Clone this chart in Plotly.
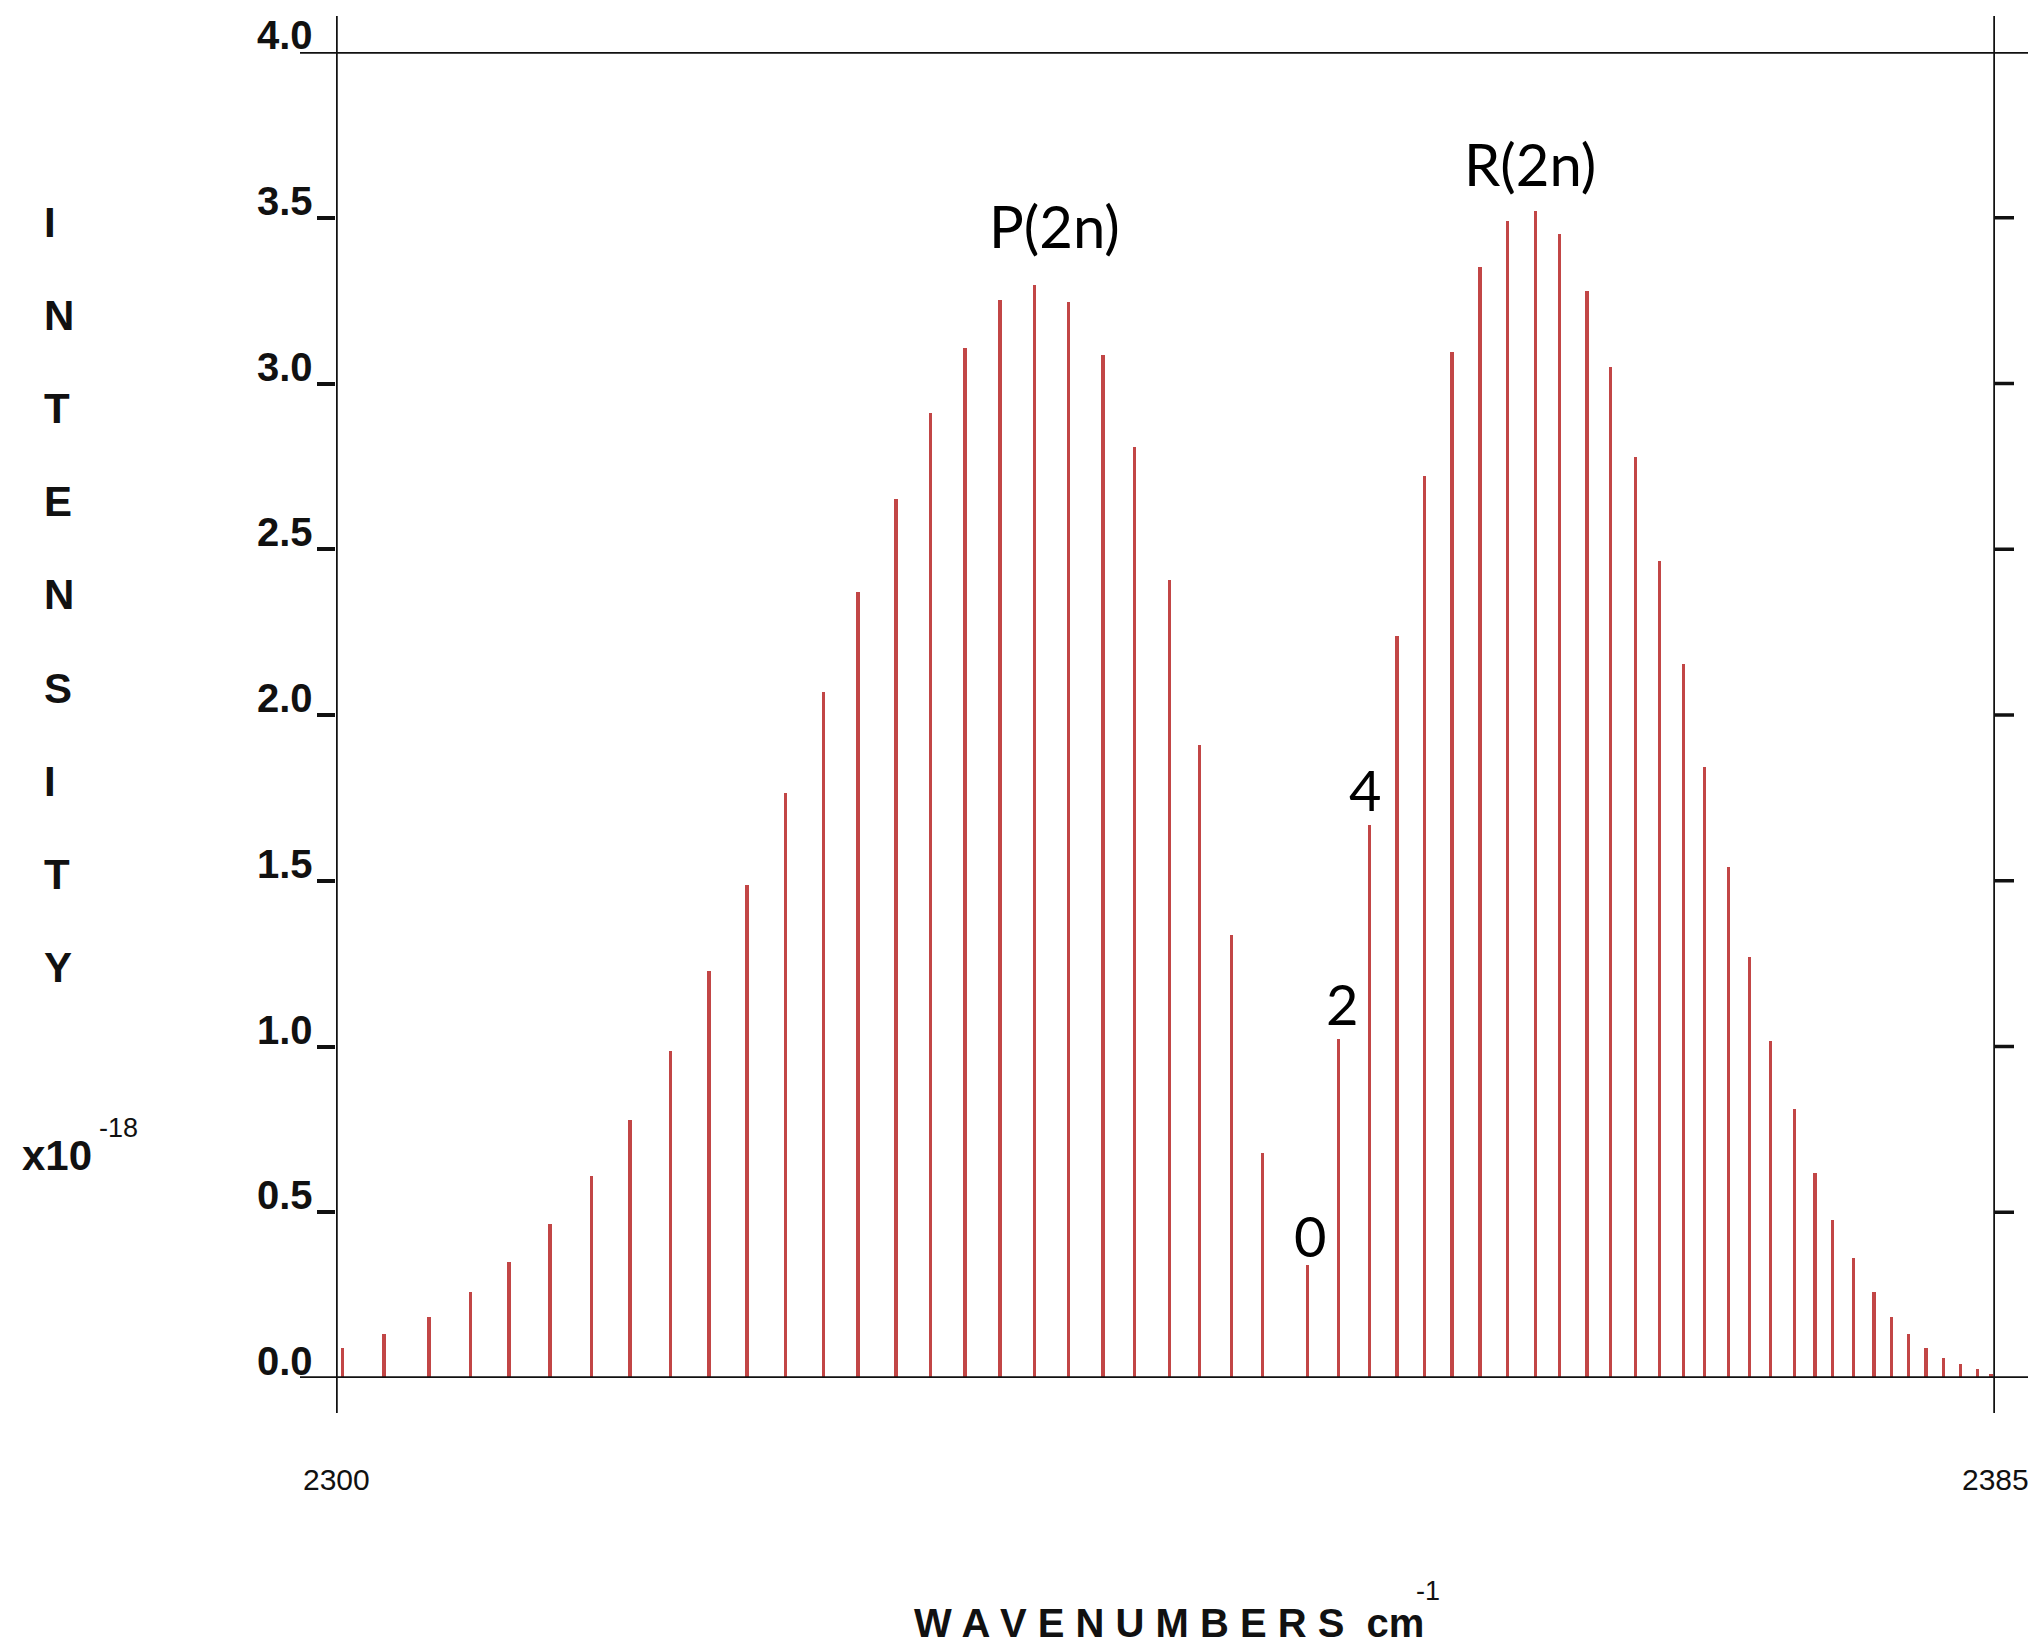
import plotly.graph_objects as go

# ---------------- data ----------------
p_wavenumber = [2300.34, 2302.47, 2304.76, 2306.88, 2308.86, 2310.96, 2313.10, 2315.05,
                2317.15, 2319.11, 2321.06, 2323.02, 2324.97, 2326.74, 2328.68, 2330.47,
                2332.23, 2334.02, 2335.78, 2337.54, 2339.31, 2340.92, 2342.70, 2344.24,
                2345.87, 2347.46]
p_intensity = [0.092, 0.132, 0.184, 0.259, 0.351, 0.465, 0.610, 0.779,
               0.987, 1.228, 1.487, 1.765, 2.068, 2.371, 2.651, 2.912,
               3.107, 3.252, 3.296, 3.246, 3.086, 2.807, 2.408, 1.910,
               1.336, 0.680]

r_wavenumber = [2349.77, 2351.36, 2352.94, 2354.36, 2355.78, 2357.19, 2358.61, 2360.03,
                2361.45, 2362.69, 2364.09, 2365.30, 2366.59, 2367.82, 2369.05, 2370.12,
                2371.35, 2372.41, 2373.49, 2374.73, 2375.79, 2376.68, 2377.74, 2378.80,
                2379.69, 2380.58, 2381.46, 2382.35, 2383.23, 2384.11, 2384.80]
r_intensity = [0.342, 1.022, 1.667, 2.239, 2.721, 3.094, 3.352, 3.489,
               3.520, 3.450, 3.280, 3.050, 2.779, 2.465, 2.153, 1.844,
               1.541, 1.269, 1.017, 0.812, 0.619, 0.477, 0.363, 0.258,
               0.184, 0.133, 0.091, 0.061, 0.042, 0.028, 0.012]

y_tick_vals = [0.0, 0.5, 1.0, 1.5, 2.0, 2.5, 3.0, 3.5, 4.0]
y_tick_text = ["0.0", "0.5", "1.0", "1.5", "2.0", "2.5", "3.0", "3.5", "4.0"]
x_tick_vals = [2300, 2385]
x_tick_text = ["2300", "2385"]

branch_labels = ["P(2n)", "R(2n)"]
branch_label_pos = [(2336.79, 3.478), (2361.17, 3.665)]
j_labels = ["0", "2", "4"]
j_label_pos = [(2349.90, 0.431), (2351.54, 1.131), (2352.72, 1.774)]

y_title_letters = ["I", "N", "T", "E", "N", "S", "I", "T", "Y"]
y_scale_base = "x10"
y_scale_exp = "-18"
x_title_word = "WAVENUMBERS"
x_title_unit = "cm"
x_title_exp = "-1"

# ---------------- geometry ----------------
W, H = 2028, 1645
L, R, T, B = 336, 1995, 52, 1378          # plot area in pixels
PW, PH = R - L, B - T


def px_x(px):
    return (px - L) / PW


def px_y(py):
    return (B - py) / PH


BAR_COLOR = "#c24646"
BLACK = "#111111"

fig = go.Figure()
fig.add_trace(go.Bar(x=p_wavenumber, y=p_intensity, width=0.18,
                     marker=dict(color=BAR_COLOR, line=dict(width=0)),
                     showlegend=False, hoverinfo="x+y"))
fig.add_trace(go.Bar(x=r_wavenumber, y=r_intensity, width=0.18,
                     marker=dict(color=BAR_COLOR, line=dict(width=0)),
                     showlegend=False, hoverinfo="x+y"))

shapes = []
lw = 3.5
# vertical frame lines (extending above and below the plot)
for xv in x_tick_vals:
    shapes.append(dict(type="line", xref="x", yref="paper", x0=xv, x1=xv,
                       y0=px_y(1413), y1=px_y(16), line=dict(color=BLACK, width=lw)))
# horizontal frame lines at 0 and 4
for yv in (y_tick_vals[0], y_tick_vals[-1]):
    shapes.append(dict(type="line", xref="paper", yref="y", x0=px_x(300), x1=px_x(2030),
                       y0=yv, y1=yv, line=dict(color=BLACK, width=lw)))
# right-hand ticks
for yv in y_tick_vals[1:-1]:
    shapes.append(dict(type="line", xref="paper", yref="y", x0=1.0, x1=px_x(R + 19),
                       y0=yv, y1=yv, line=dict(color=BLACK, width=lw)))

annotations = []
# y tick labels (sit on top of their tick line)
for v, t in zip(y_tick_vals, y_tick_text):
    annotations.append(dict(text=t, xref="paper", yref="y", x=px_x(315), y=v,
                            xanchor="right", yanchor="bottom", yshift=-7, showarrow=False,
                            font=dict(family="Liberation Sans", size=40, color=BLACK,
                                      weight="bold")))
# x tick labels
for v, t in zip(x_tick_vals, x_tick_text):
    annotations.append(dict(text=t, xref="x", yref="paper", x=v, y=px_y(1479),
                            xanchor="center", yanchor="middle", showarrow=False,
                            font=dict(family="Liberation Sans", size=30, color=BLACK)))
# vertical y title letters
letter_y0, letter_dy = 222.5, 93.1
for i, ch in enumerate(y_title_letters):
    annotations.append(dict(text=ch, xref="paper", yref="paper", x=px_x(42),
                            y=px_y(letter_y0 + i * letter_dy),
                            xanchor="left", yanchor="middle", showarrow=False,
                            font=dict(family="Liberation Sans", size=42, color=BLACK,
                                      weight="bold")))
# x10^-18
annotations.append(dict(text=y_scale_base, xref="paper", yref="paper",
                        x=px_x(20), y=px_y(1155), xanchor="left", yanchor="middle",
                        showarrow=False,
                        font=dict(family="Liberation Sans", size=42, color=BLACK,
                                  weight="bold")))
annotations.append(dict(text=y_scale_exp, xref="paper", yref="paper",
                        x=px_x(118), y=px_y(1128), xanchor="center", yanchor="middle",
                        showarrow=False,
                        font=dict(family="Liberation Sans", size=27, color=BLACK)))
# x title (letter-spaced, as in the reference)
spaced = " ".join(x_title_word)
annotations.append(dict(text=spaced + "\u00a0\u00a0" + x_title_unit,
                        xref="paper", yref="paper",
                        x=px_x(912), y=px_y(1623), xanchor="left", yanchor="middle",
                        showarrow=False,
                        font=dict(family="Liberation Sans", size=40, color=BLACK,
                                  weight="bold")))
annotations.append(dict(text=x_title_exp, xref="paper", yref="paper",
                        x=px_x(1428), y=px_y(1591), xanchor="center", yanchor="middle",
                        showarrow=False,
                        font=dict(family="Liberation Sans", size=27, color=BLACK)))
# branch and J labels
for t, (xv, yv) in zip(branch_labels, branch_label_pos):
    annotations.append(dict(text=t, xref="x", yref="y", x=xv, y=yv, showarrow=False,
                            xanchor="center", yanchor="middle",
                            font=dict(family="Lato", size=58, color="black")))
for t, (xv, yv) in zip(j_labels, j_label_pos):
    annotations.append(dict(text=t, xref="x", yref="y", x=xv, y=yv, showarrow=False,
                            xanchor="center", yanchor="middle",
                            font=dict(family="Lato", size=56, color="black")))

fig.update_layout(
    width=W, height=H, autosize=False,
    margin=dict(l=L, r=W - R, t=T, b=H - B, pad=0),
    paper_bgcolor="white", plot_bgcolor="white",
    bargap=0, barmode="overlay",
    xaxis=dict(range=[x_tick_vals[0], x_tick_vals[-1]], showgrid=False, zeroline=False,
               showline=False, ticks="", showticklabels=False, fixedrange=True),
    yaxis=dict(range=[y_tick_vals[0], y_tick_vals[-1]], showgrid=False, zeroline=False,
               showline=False, tickvals=y_tick_vals[1:-1], ticks="outside", ticklen=18,
               tickwidth=3.5, tickcolor=BLACK, showticklabels=False, fixedrange=True),
    shapes=shapes,
    annotations=annotations,
    showlegend=False,
)

fig.write_html("out.html")
